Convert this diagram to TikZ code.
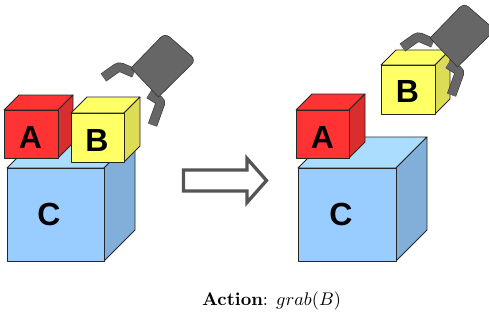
\documentclass[tikz,border=0pt]{standalone}
\usepackage{fontspec}
\newfontfamily\cubefont{Liberation Sans}

% block colours: front, top and shaded side
\definecolor{Afront}{HTML}{FF3333}
\definecolor{Atop}{HTML}{FF3333}
\definecolor{Aside}{HTML}{D92E2E}
\definecolor{Bfront}{HTML}{FFFF66}
\definecolor{Btop}{HTML}{FFFF66}
\definecolor{Bside}{HTML}{DDDD55}
\definecolor{Cfront}{HTML}{99CCFF}
\definecolor{Ctop}{HTML}{AADDFF}
\definecolor{Cside}{HTML}{82AFD9}
\definecolor{gripgray}{HTML}{666666}
\definecolor{arrowgray}{HTML}{555555}

\tikzset{
  cubeedge/.style={draw=black!85, line width=0.8pt, line join=round},
  cubeletter/.style={inner sep=0pt, font=\cubefont\bfseries\fontsize{32}{32}\selectfont},
  gripbody/.style={fill=gripgray, draw=black!80, line width=0.6pt},
  gripclawout/.style={draw=black!75, line width=9.6pt, rounded corners=3pt},
  gripclaw/.style={draw=gripgray, line width=8.2pt, rounded corners=3pt},
  bigarrow/.style={draw=arrowgray, line width=3.3pt, line join=miter},
  caption/.style={inner sep=0pt, anchor=base, scale=1.83},
}

% #1,#2: top-left corner of the front face; #3 width; #4 height; #5 depth; #6 colour prefix
\newcommand{\blockcube}[6]{%
  \filldraw[cubeedge, fill=#6top] (#1,#2) -- ++(#5,-#5) -- ++(#3,0) -- ++(-#5,#5) -- cycle;
  \filldraw[cubeedge, fill=#6side] (#1+#3,#2) -- ++(#5,-#5) -- ++(0,#4) -- ++(-#5,#5) -- cycle;
  \filldraw[cubeedge, fill=#6front] (#1,#2) rectangle ++(#3,#4);
}

% robot gripper: claw behind, body on top
\newcommand{\gripper}{%
  \path[gripclawout] (103.5,77.5) -- (119,66.5) -- (134,73);
  \path[gripclawout] (149,94) -- (161,101.5) -- (152.5,125);
  \path[gripclaw] (103.5,77.5) -- (119,66.5) -- (134,73);
  \path[gripclaw] (149,94) -- (161,101.5) -- (152.5,125);
  \filldraw[gripbody] (131,68) [rounded corners=6pt] -- (165,33) -- (196,60)
    [sharp corners] -- (158.5,97) -- cycle;
}

\begin{document}
\begin{tikzpicture}[x=1pt, y=-1pt]
  \useasboundingbox (0,0) rectangle (489,321);
  \clip (0,0) rectangle (489,321);

  % initial state: A and B side by side on C
  \blockcube{7}{168}{97}{93}{31}{C}
  \blockcube{4}{110}{54}{48}{15}{A}
  \blockcube{71}{113}{53}{49}{16}{B}
  \node[cubeletter] (c1) at (49,214) {C};
  \node[cubeletter] (a1) at (30.5,137) {A};
  \node[cubeletter] (b1) at (97,140) {B};
  \gripper

  % transition arrow
  \draw[bigarrow] (183.5,170) -- (247,170) -- (247,158.5) -- (266.5,180.5)
    -- (247,202.5) -- (247,191) -- (183.5,191) -- cycle;

  % resulting state: B lifted by the gripper
  \blockcube{298}{168}{98}{93}{31}{C}
  \blockcube{296}{110}{53}{48}{16}{A}
  \blockcube{381}{65}{54}{49}{15}{B}
  \node[cubeletter] (c2) at (341,214) {C};
  \node[cubeletter] (a2) at (322.5,137) {A};
  \node[cubeletter] (b2) at (407.5,91.5) {B};
  \begin{scope}[shift={(299,-30)}]
    \gripper
  \end{scope}

  \node[caption] (act) at (271.5,305) {\textbf{Action}: $grab(B)$};
\end{tikzpicture}
\end{document}
